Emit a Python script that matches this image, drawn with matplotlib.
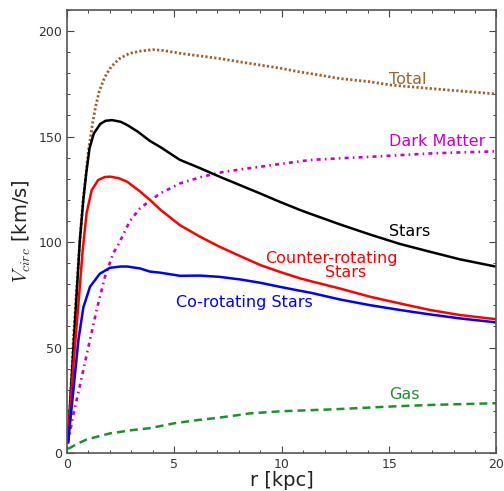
import matplotlib
matplotlib.use("Agg")
import matplotlib.pyplot as plt
from matplotlib.ticker import MultipleLocator

plt.rcParams['mathtext.fontset'] = 'cm'
plt.rcParams['font.family'] = ['DejaVu Sans']

# ---- data ----
r_total = [0.05, 0.3, 0.6, 0.75, 0.9, 1.0, 1.1, 1.2, 1.35, 1.5, 1.75, 2.05, 2.45, 2.9, 3.4,
           4.0, 4.5, 5.3, 6.2, 7.1, 8.0, 9.0, 10.0, 10.8, 11.8, 12.7, 14.1, 15.1, 16.9, 18.3, 20.0]
v_total = [5, 55, 101, 120, 134, 143.6, 150, 157, 165, 171.5, 178, 183, 187, 189.4, 190.5,
           191.2, 190.8, 189.4, 188.2, 187, 185.5, 183.9, 182.3, 180.7, 179.1, 177.5, 176, 174.4,
           172.8, 171.6, 170.2]

r_stars = [0.05, 0.3, 0.6, 0.76, 0.9, 1.05, 1.25, 1.55, 1.8, 2.1, 2.5, 2.8, 3.3, 3.85, 4.35,
           5.25, 6.2, 7.1, 8.05, 9.0, 9.9, 10.85, 11.33, 11.8, 12.7, 14.1, 15.5, 16.9, 18.3, 20.0]
v_stars = [7, 50, 101, 120, 133, 144.5, 151.5, 156, 157.5, 157.8, 157, 155.5, 152.3, 148, 145,
           139, 135, 131, 127, 123, 119.1, 115.2, 113.4, 111.7, 108.4, 103.6, 99.1, 95.4, 91.8, 88.3]

r_counter = [0.05, 0.3, 0.55, 0.73, 0.91, 1.15, 1.45, 1.75, 2.0, 2.4, 2.8, 3.4, 3.86, 4.33,
             5.26, 6.2, 7.1, 8.05, 9.0, 9.9, 10.85, 11.33, 12.7, 14.1, 15.5, 16.9, 18.3, 20.0]
v_counter = [7, 42, 73, 96, 113.6, 124.6, 129.4, 130.8, 131, 130.3, 128.6, 124, 120, 115.5,
             108, 102.5, 97.8, 93.4, 89.1, 85.9, 82.8, 81.5, 78, 74.1, 70.9, 67.8, 65.4, 63.4]

r_co = [0.05, 0.3, 0.53, 0.76, 1.07, 1.53, 2.0, 2.5, 2.8, 3.4, 3.86, 4.33, 5.26, 6.2, 7.1,
        8.05, 9.0, 9.9, 10.85, 11.33, 12.7, 14.1, 15.5, 16.9, 18.3, 20.0]
v_co = [5, 30, 53.5, 69, 78.8, 85, 87.8, 88.4, 88.4, 87.5, 86, 85.5, 84.0, 84.1, 83.5,
        82.3, 80.7, 78.8, 76.9, 76, 72.8, 70.1, 67.8, 65.7, 63.8, 61.9]

r_dm = [0.05, 0.3, 0.6, 1.0, 1.38, 1.77, 2.15, 2.4, 2.93, 3.4, 3.85, 4.33, 5.26, 6.2, 7.1,
        8.05, 9.0, 9.9, 11.33, 12.7, 14.1, 15.5, 16.9, 18.3, 20.0]
v_dm = [5, 18.5, 32, 50.4, 67.8, 83.6, 94.6, 99, 110, 116, 119.5, 123, 127.8, 130.7, 132.9,
        134.4, 135.7, 137, 138.9, 139.7, 140.4, 141.2, 142, 142.5, 143]

r_gas = [0.05, 0.15, 0.5, 0.92, 1.5, 2.0, 3.0, 3.87, 5.0, 6.0, 6.96, 8.0, 8.53, 10.0, 12.4,
         15.0, 17.0, 20.0]
v_gas = [2.0, 2.5, 4.5, 6.4, 8.0, 9.3, 10.8, 11.8, 14.1, 15.5, 16.6, 18.0, 18.8, 19.8, 20.7,
         22.0, 22.8, 23.6]

c_total = '#a0622d'
c_dm = '#c800c8'
c_gas = '#20902e'

fig = plt.figure(figsize=(5.04, 4.91), dpi=100)
ax = fig.add_axes([67/504, 1-453/491, (496.5-67)/504, (453-10)/491])

ax.plot(r_total, v_total, color=c_total, lw=2.0, linestyle=(0, (0.8, 0.8)))
ax.plot(r_dm, v_dm, color=c_dm, lw=1.9, linestyle=(0, (1.5, 1.6, 0.6, 1.6)))
ax.plot(r_stars, v_stars, color='black', lw=1.8)
ax.plot(r_counter, v_counter, color='#ff0000', lw=1.8)
ax.plot(r_co, v_co, color='#0000ff', lw=1.8)
ax.plot(r_gas, v_gas, color=c_gas, lw=1.8, linestyle=(0, (3.2, 2.0)))

fs = 11.5
ax.text(15.0, 177, 'Total', color=c_total, fontsize=fs, ha='left', va='center')
ax.text(15.0, 147.5, 'Dark Matter', color=c_dm, fontsize=fs, ha='left', va='center')
ax.text(15.0, 105.2, 'Stars', color='black', fontsize=fs, ha='left', va='center')
ax.text(12.3, 92.3, 'Counter-rotating', color='#ff0000', fontsize=fs, ha='center', va='center')
ax.text(12.96, 85.5, 'Stars', color='#ff0000', fontsize=fs, ha='center', va='center')
ax.text(8.24, 71.4, 'Co-rotating Stars', color='#0000ff', fontsize=fs, ha='center', va='center')
ax.text(15.0, 27.5, 'Gas', color=c_gas, fontsize=fs, ha='left', va='center')

ax.set_xlim(0, 20)
ax.set_ylim(0, 210)
ax.xaxis.set_major_locator(MultipleLocator(5))
ax.xaxis.set_minor_locator(MultipleLocator(1))
ax.yaxis.set_major_locator(MultipleLocator(50))
ax.yaxis.set_minor_locator(MultipleLocator(10))
ax.tick_params(which='both', direction='in', top=True, right=True, colors='#444444',
               labelcolor='#333333', labelsize=9)
ax.tick_params(which='major', length=5, width=0.8)
ax.tick_params(which='minor', length=2.5, width=0.7)
for s in ax.spines.values():
    s.set_color('#555555')
    s.set_linewidth(1.2)

ax.set_xlabel('r [kpc]', fontsize=14, color='#222222', labelpad=0)
ax.set_ylabel(r'$V_{circ}$ [km/s]', fontsize=14, color='#222222', labelpad=4)

fig.savefig('out.png', dpi=100)
